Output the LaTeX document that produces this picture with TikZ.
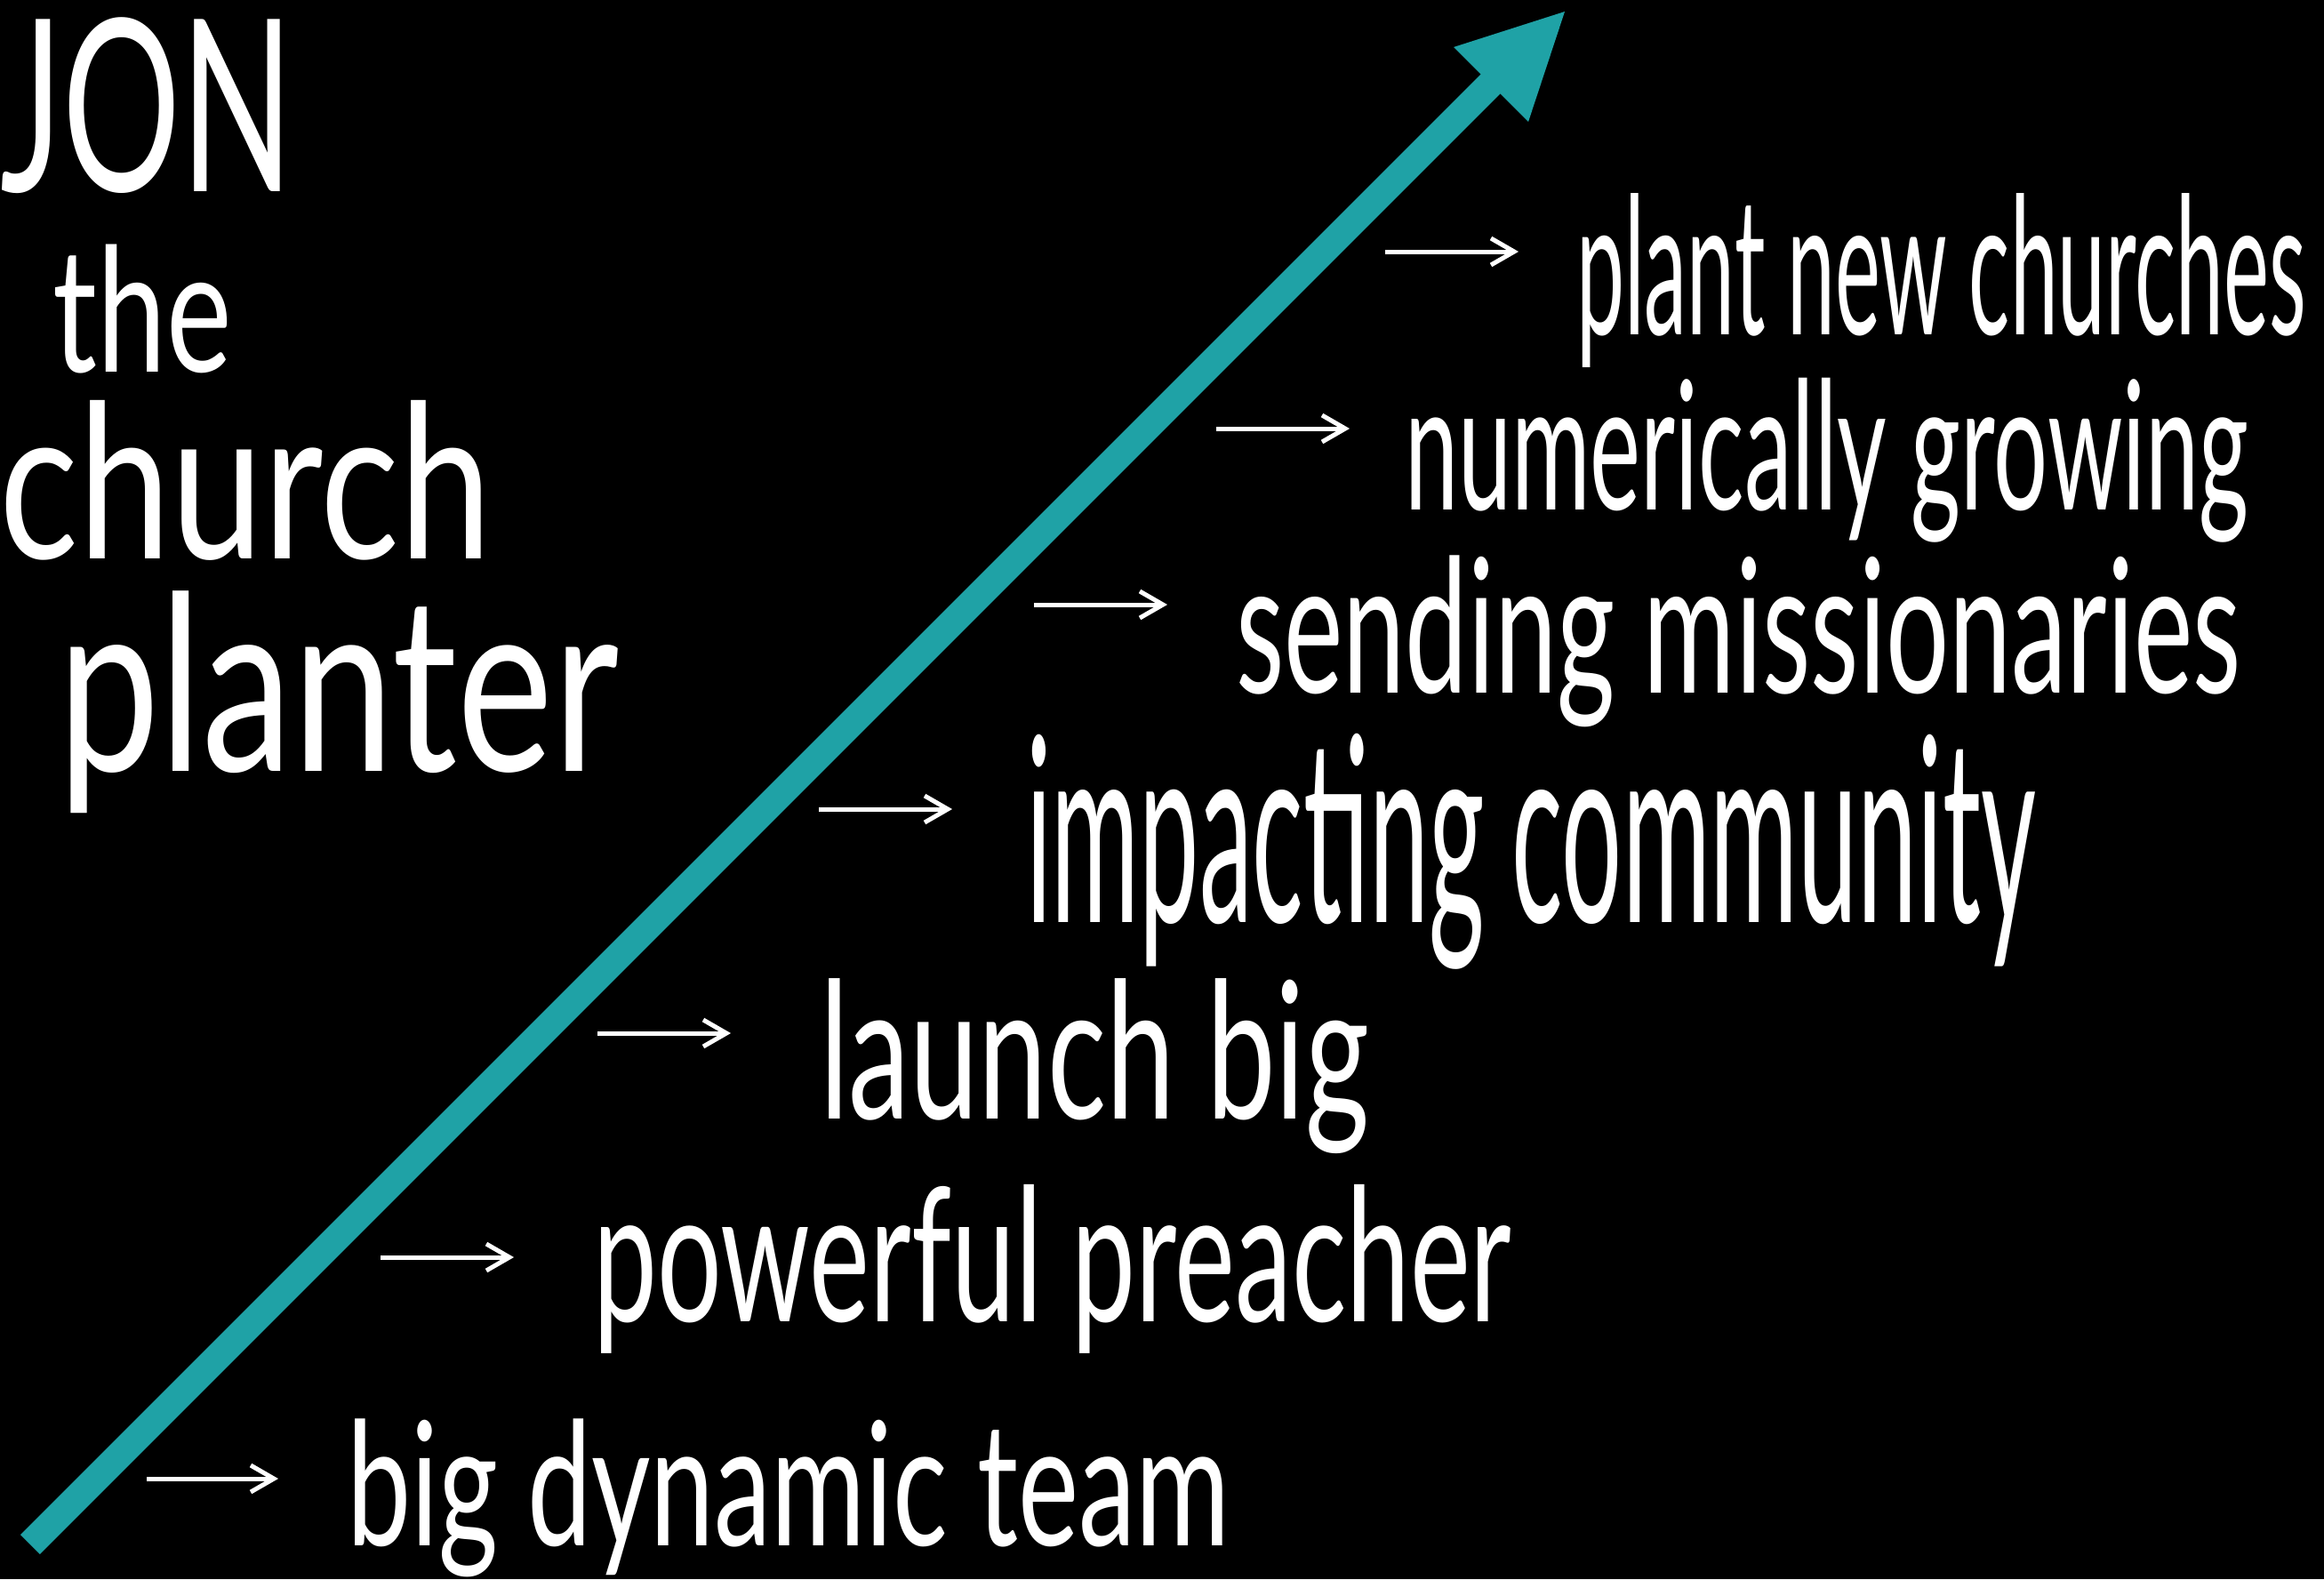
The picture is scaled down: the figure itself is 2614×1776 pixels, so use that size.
\documentclass[tikz,border=0pt]{standalone}
\usepackage{fontspec}
\setmainfont{Lato}
\usetikzlibrary{arrows.meta}
\definecolor{tealline}{RGB}{31,162,166}
\tikzset{
  hand/.style={anchor=north west, inner sep=0pt, outer sep=0pt, text=white},
  pointer/.style={draw=white, line width=0.5mm, line cap=butt,
    -{Straight Barb[length=2.6mm, width=3.0mm, line width=0.5mm]}},
  growth/.style={draw=tealline, line width=3.1mm, line cap=butt},
}
\newcommand{\hw}[3]{\resizebox*{#1}{#2}{#3}}
\begin{document}
\begin{tikzpicture}[x=0.1mm, y=-0.1mm]
\fill[black] (0,0) rectangle (2614,1776);
\useasboundingbox (0,0) rectangle (2614,1776);

% main teal arrow
\coordinate (base) at (34,1737);
\coordinate (neck) at (1684,87);
\coordinate (tip) at (1760,13);
\coordinate (barbL) at (1635,53);
\coordinate (barbR) at (1719,137);
\draw[growth] (base) -- (neck);
\fill[tealline] (tip) -- (barbL) -- (barbR) -- cycle;

% title
\node[hand] (t1) at (0,20)   {\hw{33mm}{19.8mm}{JON}};
\node[hand] (t2) at (60,275) {\hw{20.1mm}{14.5mm}{the}};
\node[hand] (t3) at (0,450)  {\hw{55.3mm}{18.0mm}{church}};
\node[hand] (t4) at (65,665) {\hw{63.1mm}{25.0mm}{planter}};

% items
\node[hand] (i1) at (1773,217) {\hw{82.1mm}{19.6mm}{plant new churches}};
\node[hand] (i2) at (1580,425) {\hw{94.9mm}{18.5mm}{numerically growing}};
\node[hand] (i3) at (1390,625) {\hw{113.1mm}{19.3mm}{sending missionaries}};
\node[hand] (i4) at (1154,825) {\hw{113.6mm}{26.5mm}{impacting community}};
\node[hand] (i5) at (922,1101) {\hw{61.8mm}{19.7mm}{launch big}};
\node[hand] (i6) at (667,1332) {\hw{103.3mm}{19.0mm}{powerful preacher}};
\node[hand] (i7) at (390,1596) {\hw{99.3mm}{17.8mm}{big dynamic team}};

% small arrows
\coordinate (a1s) at (1558,283); \coordinate (a1e) at (1708,283);
\coordinate (a2s) at (1368,482); \coordinate (a2e) at (1518,482);
\coordinate (a3s) at (1163,680); \coordinate (a3e) at (1313,680);
\coordinate (a4s) at (921,910);  \coordinate (a4e) at (1071,910);
\coordinate (a5s) at (672,1162); \coordinate (a5e) at (822,1162);
\coordinate (a6s) at (428,1414); \coordinate (a6e) at (578,1414);
\coordinate (a7s) at (165,1663); \coordinate (a7e) at (313,1663);
\foreach \k in {1,...,7} { \draw[pointer] (a\k s) -- (a\k e); }
\end{tikzpicture}
\end{document}
